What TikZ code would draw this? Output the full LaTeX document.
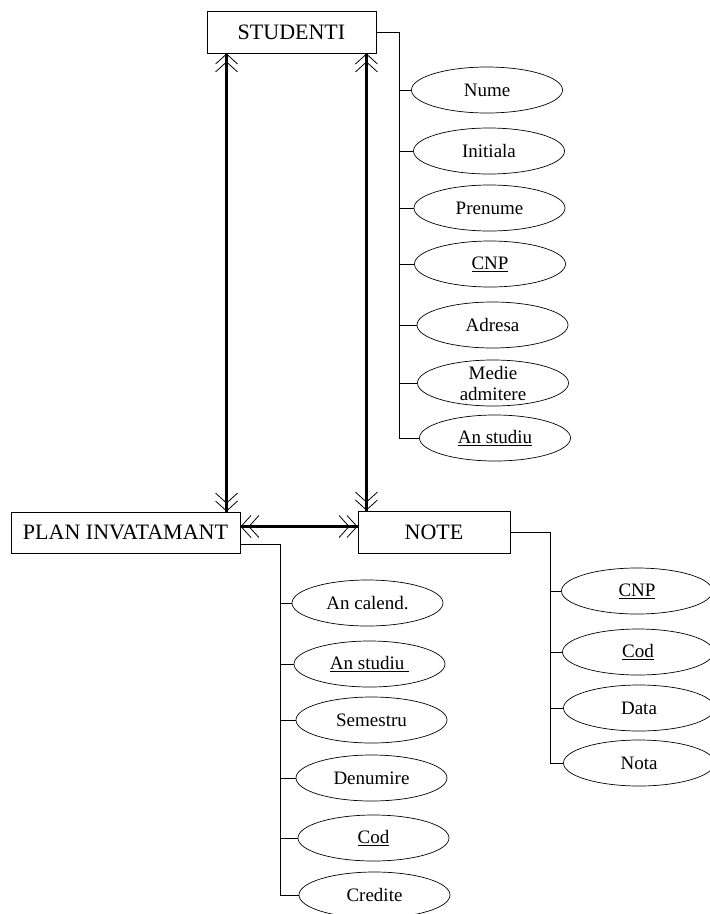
\documentclass[tikz,border=0pt]{standalone}
\usepackage{fontspec}
\setmainfont{Liberation Serif}
\usetikzlibrary{arrows.meta}
\usetikzlibrary{shapes.geometric}
\usetikzlibrary{calc}

\tikzset{
  barbs/.tip={Straight Barb[length=10pt,width=22pt,line width=0.8pt,sep=-3pt]Straight Barb[length=10pt,width=22pt,line width=0.8pt]}
}

\begin{document}
\begin{tikzpicture}[x=1pt,y=-1pt,
    entity/.style={draw,line width=0.9pt,inner sep=0pt,font=\fontsize{22}{24}\selectfont},
    attr/.style={draw,ellipse,line width=0.7pt,minimum width=151pt,minimum height=46pt,inner sep=0pt,font=\fontsize{19}{21}\selectfont},
    link/.style={line width=0.8pt},
    rel/.style={line width=2.8pt,postaction={draw,line width=0.8pt,barbs-barbs}}]
  \useasboundingbox (0,0) rectangle (710,914);

  \node[entity,minimum width=169pt,minimum height=42pt] (stud) at (291.5,32) {STUDENTI};
  \node[entity,minimum width=229pt,minimum height=41pt] (plan) at (125.5,532.5) {PLAN INVATAMANT};
  \node[entity,minimum width=152pt,minimum height=42pt] (note) at (434,532) {NOTE};

  \node[attr] (nume) at (487,90) {Nume};
  \node[attr] (init) at (489,151) {Initiala};
  \node[attr] (pren) at (489.5,208) {Prenume};
  \node[attr] (cnp) at (490,264) {\underline{CNP}};
  \node[attr] (adr) at (492.5,325) {Adresa};
  \node[attr,label={[align=center,font=\fontsize{19}{21}\selectfont]center:Medie\\admitere}] (medie) at (493,383) {};
  \node[attr] (anst) at (495,438) {\underline{An studiu}};

  \node[attr] (ancal) at (367.5,603) {An calend.};
  \node[attr] (panst) at (369.5,664) {\underline{An studiu\ }};
  \node[attr] (sem) at (371.5,720) {Semestru};
  \node[attr] (den) at (371.5,778) {Denumire};
  \node[attr] (cod) at (373.5,838) {\underline{Cod}};
  \node[attr] (cred) at (374.5,895) {Credite};

  \node[attr] (ncnp) at (637,591) {\underline{CNP}};
  \node[attr] (ncod) at (638,652) {\underline{Cod}};
  \node[attr] (data) at (639,708) {Data};
  \node[attr] (nota) at (639,763) {Nota};

  \coordinate (sbus) at (399,438);
  \coordinate (pbus) at (280,895);
  \coordinate (nbus) at (550,763);

  \draw[link] (stud.east) -| (sbus);
  \foreach \a in {nume,init,pren,cnp,adr,medie,anst}
    \draw[link] (\a.west) -- (\a.west -| sbus);

  \draw[link] ([yshift=-11.5pt]plan.east) -| (pbus);
  \foreach \a in {ancal,panst,sem,den,cod,cred}
    \draw[link] (\a.west) -- (\a.west -| pbus);

  \draw[link] (note.east) -| (nbus);
  \foreach \a in {ncnp,ncod,data,nota}
    \draw[link] (\a.west) -- (\a.west -| nbus);

  \coordinate (s1) at ([xshift=20pt]stud.south west);
  \coordinate (s2) at ([xshift=-10pt]stud.south east);
  \coordinate (p1) at ([yshift=6pt]plan.east);
  \draw[rel] (s1) -- (s1 |- plan.north);
  \draw[rel] (s2) -- (s2 |- note.north);
  \draw[rel] (p1) -- (p1 -| note.west);
\end{tikzpicture}
\end{document}
